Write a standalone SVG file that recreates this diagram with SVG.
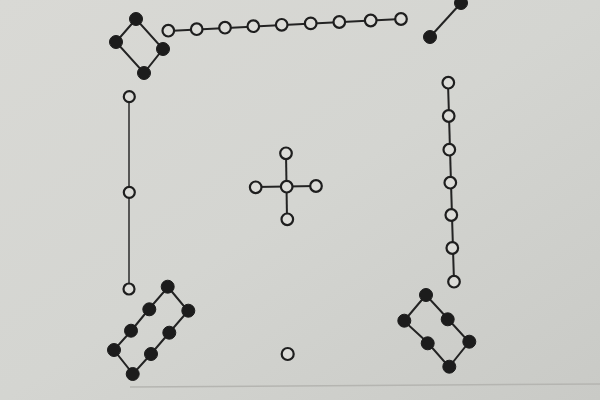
<svg xmlns="http://www.w3.org/2000/svg" width="600" height="400" viewBox="0 0 600 400">
<defs>
<linearGradient id="bg" x1="0" y1="0" x2="1" y2="1">
<stop offset="0" stop-color="#d9d9d5"/>
<stop offset="0.5" stop-color="#d4d5d1"/>
<stop offset="1" stop-color="#c9cac6"/>
</linearGradient>
<style>
.w{fill:#dcdcd8;stroke:#1e1e1e;stroke-width:2.2}
.b{fill:#1c1c1c;stroke:#1c1c1c;stroke-width:1}
.c{fill:none;stroke:#232323;stroke-width:2}
.c1{fill:none;stroke:#2a2a2a;stroke-width:1.5}
</style>
</defs>
<rect width="600" height="400" fill="url(#bg)"/>
<line x1="130" y1="387" x2="600" y2="384" stroke="#b5b5b1" stroke-width="1.5"/>
<g id="connectors">
<polygon class="c" points="136,19 116,42 144,73 163,49"/>
<polyline class="c" points="168,31 401,19"/>
<line class="c" x1="461" y1="3" x2="430" y2="37"/>
<polyline class="c" points="448,83 454,282"/>
<line class="c1" x1="129" y1="97" x2="129" y2="289"/>
<line class="c" x1="256" y1="187" x2="316" y2="186"/>
<line class="c" x1="286" y1="153" x2="287" y2="219"/>
<polygon class="c" points="168,287 188,311 169,333 151,354 133,374 114,350 131,331 149,309"/>
<polygon class="c" points="426,295 404,321 428,343 449,367 469,342 448,319"/>
</g>
<g id="four">
<circle class="b" cx="136" cy="19" r="6.5"/>
<circle class="b" cx="116" cy="42" r="6.5"/>
<circle class="b" cx="144" cy="73" r="6.5"/>
<circle class="b" cx="163" cy="49" r="6.5"/>
</g>
<g id="nine">
<circle class="w" cx="168.3" cy="30.7" r="5.8"/>
<circle class="w" cx="196.7" cy="29.2" r="5.8"/>
<circle class="w" cx="225" cy="27.7" r="5.8"/>
<circle class="w" cx="253.3" cy="26.2" r="5.8"/>
<circle class="w" cx="281.7" cy="24.8" r="5.8"/>
<circle class="w" cx="310.7" cy="23.4" r="5.8"/>
<circle class="w" cx="339.3" cy="22" r="5.8"/>
<circle class="w" cx="370.7" cy="20.5" r="5.8"/>
<circle class="w" cx="401" cy="19" r="5.8"/>
</g>
<g id="two">
<circle class="b" cx="461" cy="3" r="6.5"/>
<circle class="b" cx="430" cy="37" r="6.5"/>
</g>
<g id="seven">
<circle class="w" cx="448.3" cy="82.7" r="5.8"/>
<circle class="w" cx="448.7" cy="116" r="5.8"/>
<circle class="w" cx="449.3" cy="149.7" r="5.8"/>
<circle class="w" cx="450.3" cy="182.7" r="5.8"/>
<circle class="w" cx="451.3" cy="215" r="5.8"/>
<circle class="w" cx="452.3" cy="248" r="5.8"/>
<circle class="w" cx="454" cy="281.7" r="5.8"/>
</g>
<g id="three">
<circle class="w" cx="129.3" cy="96.7" r="5.5"/>
<circle class="w" cx="129.3" cy="192.3" r="5.5"/>
<circle class="w" cx="129" cy="289" r="5.5"/>
</g>
<g id="five">
<circle class="w" cx="286.7" cy="186.7" r="5.8"/>
<circle class="w" cx="286" cy="153.3" r="5.8"/>
<circle class="w" cx="287.3" cy="219.3" r="5.8"/>
<circle class="w" cx="255.7" cy="187.3" r="5.8"/>
<circle class="w" cx="316" cy="186" r="5.8"/>
</g>
<g id="eight">
<circle class="b" cx="167.7" cy="286.7" r="6.5"/>
<circle class="b" cx="188.3" cy="310.7" r="6.5"/>
<circle class="b" cx="169.3" cy="332.7" r="6.5"/>
<circle class="b" cx="151" cy="354" r="6.5"/>
<circle class="b" cx="132.7" cy="374" r="6.5"/>
<circle class="b" cx="114" cy="350" r="6.5"/>
<circle class="b" cx="131" cy="330.7" r="6.5"/>
<circle class="b" cx="149.3" cy="309.3" r="6.5"/>
</g>
<g id="one">
<circle class="w" cx="287.7" cy="354" r="6"/>
</g>
<g id="six">
<circle class="b" cx="426" cy="295" r="6.5"/>
<circle class="b" cx="404.3" cy="320.7" r="6.5"/>
<circle class="b" cx="447.7" cy="319.3" r="6.5"/>
<circle class="b" cx="427.7" cy="343.3" r="6.5"/>
<circle class="b" cx="469.3" cy="341.7" r="6.5"/>
<circle class="b" cx="449.3" cy="366.7" r="6.5"/>
</g>
</svg>
